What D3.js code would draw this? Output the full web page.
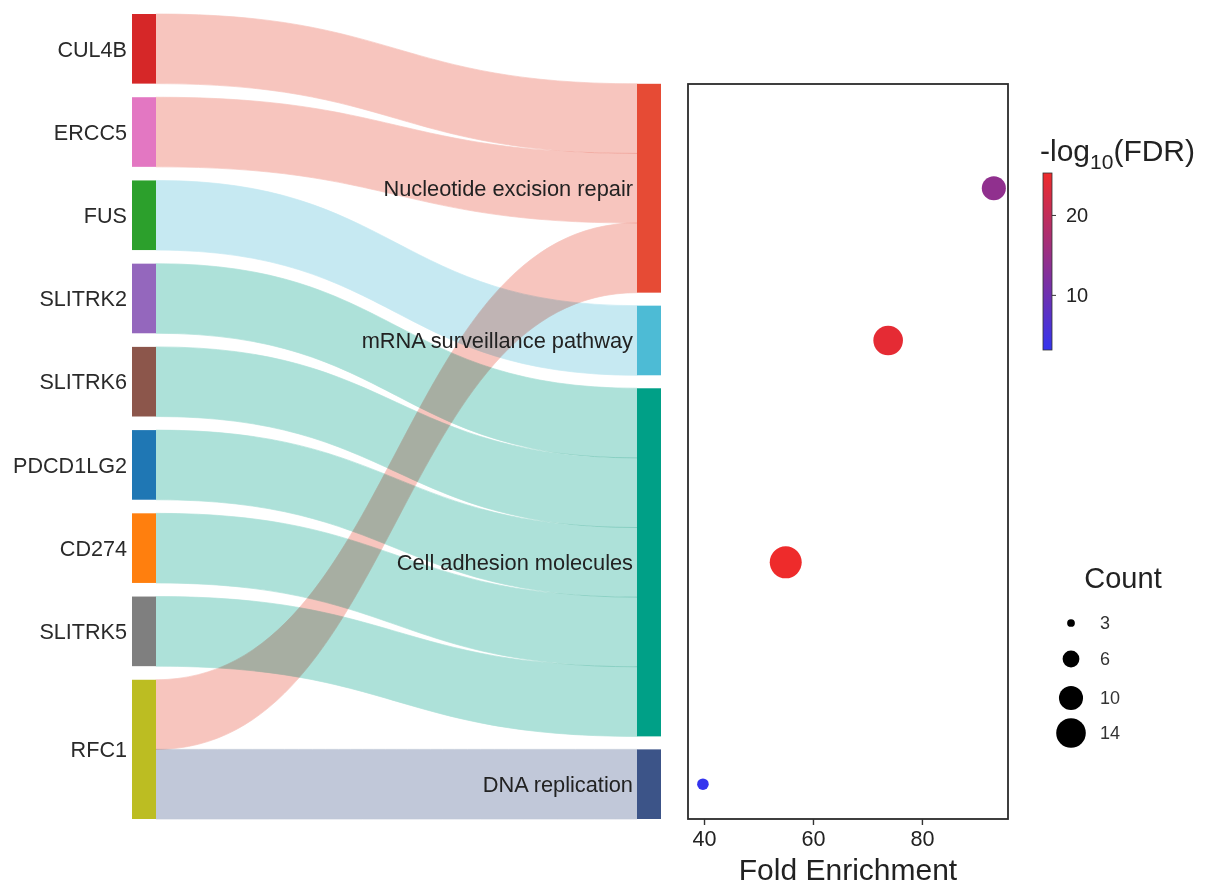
<!DOCTYPE html>
<html>
<head>
<meta charset="utf-8">
<script src="https://cdn.jsdelivr.net/npm/d3@7"></script>
<style>
  body { margin: 0; background: #fff; }
  text { font-family: "Liberation Sans", Arial, sans-serif; }
  .ribbon { mix-blend-mode: multiply; }
</style>
</head>
<body>
<svg id="chart" width="1205" height="888"></svg>
<script>
// ---- data ----
const genes = ["CUL4B", "ERCC5", "FUS", "SLITRK2", "SLITRK6", "PDCD1LG2", "CD274", "SLITRK5", "RFC1"];
const pathways = ["Nucleotide excision repair", "mRNA surveillance pathway", "Cell adhesion molecules", "DNA replication"];

// gene -> pathway memberships (one link each)
const linkSource = ["CUL4B", "ERCC5", "FUS", "SLITRK2", "SLITRK6", "PDCD1LG2", "CD274", "SLITRK5", "RFC1", "RFC1"];
const linkTarget = ["Nucleotide excision repair", "Nucleotide excision repair", "mRNA surveillance pathway",
  "Cell adhesion molecules", "Cell adhesion molecules", "Cell adhesion molecules", "Cell adhesion molecules",
  "Cell adhesion molecules", "Nucleotide excision repair", "DNA replication"];
const linkValue = [1, 1, 1, 1, 1, 1, 1, 1, 1, 1];

// enrichment statistics per pathway
const foldEnrichment = [93.2, 73.8, 55.0, 39.8];
const geneCount = [10, 14, 16, 4];
const negLog10FDR = [14.0, 24.2, 25.25, 3.1];

const xTicks = [40, 60, 80];
const colorTicks = [10, 20];
const countTicks = [3, 6, 10, 14];

// ---- palettes ----
const geneColors = ["#d62728", "#e377c2", "#2ca02c", "#9467bd", "#8c564b", "#1f77b4", "#ff7f0e", "#7f7f7f", "#bcbd22"];
const pathwayColors = ["#E64B35", "#4DBBD5", "#00A087", "#3C5488"];

const svg = d3.select("#chart");
const font = '"Liberation Sans", Arial, sans-serif';

// ---- sankey layout ----
const sk = { top: 14, bottom: 819, xLeft: 132, xRight: 637, nodeW: 24, padLeft: 13.6, padRight: 13 };

const links = linkSource.map((s, i) => ({ source: s, target: linkTarget[i], value: linkValue[i] }));
const geneNodes = genes.map((g, i) => ({ name: g, color: geneColors[i],
  value: d3.sum(links.filter(l => l.source === g), l => l.value) }));
const pathNodes = pathways.map((p, i) => ({ name: p, color: pathwayColors[i],
  value: d3.sum(links.filter(l => l.target === p), l => l.value) }));

const total = d3.sum(geneNodes, d => d.value);
const ky = (sk.bottom - sk.top - (geneNodes.length - 1) * sk.padLeft) / total;
const vScale = d3.scaleLinear().domain([0, total]).range([0, total * ky]);

let y = sk.top;
geneNodes.forEach(n => { n.y0 = y; n.y1 = y + vScale(n.value); y = n.y1 + sk.padLeft; n.x0 = sk.xLeft; n.x1 = sk.xLeft + sk.nodeW; });
y = sk.bottom - (vScale(total) + (pathNodes.length - 1) * sk.padRight);
pathNodes.forEach(n => { n.y0 = y; n.y1 = y + vScale(n.value); y = n.y1 + sk.padRight; n.x0 = sk.xRight; n.x1 = sk.xRight + sk.nodeW; });

const pathByName = new Map(pathNodes.map(n => [n.name, n]));

// stack links on each side in the order of the opposite column
geneNodes.forEach(n => {
  let cy = n.y0;
  links.filter(l => l.source === n.name)
    .sort((a, b) => pathways.indexOf(a.target) - pathways.indexOf(b.target))
    .forEach(l => { l.sy0 = cy; cy += vScale(l.value); l.sy1 = cy; });
});
pathNodes.forEach(n => {
  let cy = n.y0;
  links.filter(l => l.target === n.name)
    .sort((a, b) => genes.indexOf(a.source) - genes.indexOf(b.source))
    .forEach(l => { l.ty0 = cy; cy += vScale(l.value); l.ty1 = cy; });
});

function ribbon(l) {
  const x0 = sk.xLeft + sk.nodeW, x1 = sk.xRight, xm = (x0 + x1) / 2;
  return `M${x0},${l.sy0}C${xm},${l.sy0} ${xm},${l.ty0} ${x1},${l.ty0}` +
         `L${x1},${l.ty1}C${xm},${l.ty1} ${xm},${l.sy1} ${x0},${l.sy1}Z`;
}
// translucent tint of the target colour, multiplied where ribbons cross
const tint = c => d3.interpolateRgb("#ffffff", c)(0.32);

svg.append("g").selectAll("path").data(links).join("path")
  .attr("class", "ribbon")
  .attr("d", ribbon)
  .attr("fill", l => tint(pathByName.get(l.target).color))
  .attr("stroke", l => tint(pathByName.get(l.target).color))
  .attr("stroke-width", 0.7);

const gNodes = svg.append("g");
gNodes.selectAll("rect.gene").data(geneNodes).join("rect").attr("class", "gene")
  .attr("x", d => d.x0).attr("y", d => d.y0)
  .attr("width", d => d.x1 - d.x0).attr("height", d => d.y1 - d.y0)
  .attr("fill", d => d.color);
gNodes.selectAll("rect.path").data(pathNodes).join("rect").attr("class", "path")
  .attr("x", d => d.x0).attr("y", d => d.y0)
  .attr("width", d => d.x1 - d.x0).attr("height", d => d.y1 - d.y0)
  .attr("fill", d => d.color);

svg.append("g").selectAll("text").data(geneNodes).join("text")
  .attr("x", d => d.x0 - 5).attr("y", d => (d.y0 + d.y1) / 2)
  .attr("dy", "0.36em").attr("text-anchor", "end")
  .attr("font-size", 21.6).attr("fill", "#2a2a2a")
  .text(d => d.name);

svg.append("g").selectAll("text").data(pathNodes).join("text")
  .attr("x", d => d.x0 - 4).attr("y", d => (d.y0 + d.y1) / 2)
  .attr("dy", "0.36em").attr("text-anchor", "end")
  .attr("font-size", 21.8).attr("fill", "#222")
  .text(d => d.name);

// ---- bubble panel ----
const box = { x0: 688, x1: 1008, y0: 84, y1: 819 };
const x = d3.scaleLinear().domain([37.06, 95.8]).range([box.x0, box.x1]);
const color = d3.scaleLinear().domain([3.1, 25.25]).range(["#3434ee", "#ee2b2b"]).interpolate(d3.interpolateRgb);
const rArea = d3.scaleLinear().domain([3, 14]).range([15, 219]);
const radius = c => Math.sqrt(Math.max(rArea(c), 4));

const bubbles = pathNodes.map((n, i) => ({ cy: (n.y0 + n.y1) / 2, fe: foldEnrichment[i], count: geneCount[i], fdr: negLog10FDR[i] }));

svg.append("g").selectAll("circle").data(bubbles).join("circle")
  .attr("cx", d => x(d.fe)).attr("cy", d => d.cy)
  .attr("r", d => radius(d.count))
  .attr("fill", d => color(d.fdr));

svg.append("rect")
  .attr("x", box.x0).attr("y", box.y0)
  .attr("width", box.x1 - box.x0).attr("height", box.y1 - box.y0)
  .attr("fill", "none").attr("stroke", "#2b2b2b").attr("stroke-width", 1.8);

const xAxis = svg.append("g").attr("transform", `translate(0,${box.y1})`)
  .call(d3.axisBottom(x).tickValues(xTicks).tickSize(6).tickPadding(6).tickFormat(d3.format("d")));
xAxis.select(".domain").remove();
xAxis.selectAll("line").attr("stroke", "#333").attr("stroke-width", 1.4);
xAxis.selectAll("text").attr("font-size", 21.6).attr("font-family", font).attr("fill", "#222");

svg.append("text")
  .attr("x", (box.x0 + box.x1) / 2).attr("y", 880)
  .attr("text-anchor", "middle").attr("font-size", 30).attr("fill", "#222")
  .text("Fold Enrichment");

// ---- colour bar ----
const cb = { x: 1043, w: 9, y0: 173, y1: 350 };
const cbScale = d3.scaleLinear().domain(color.domain()).range([cb.y1, cb.y0]);
const grad = svg.append("defs").append("linearGradient").attr("id", "fdrGrad")
  .attr("x1", 0).attr("y1", 1).attr("x2", 0).attr("y2", 0);
d3.range(0, 1.001, 0.1).forEach(t => {
  const v = color.domain()[0] + t * (color.domain()[1] - color.domain()[0]);
  grad.append("stop").attr("offset", t).attr("stop-color", color(v));
});
svg.append("rect").attr("x", cb.x).attr("y", cb.y0).attr("width", cb.w).attr("height", cb.y1 - cb.y0)
  .attr("fill", "url(#fdrGrad)").attr("stroke", "#333").attr("stroke-width", 0.8);
const cbAxis = svg.append("g").attr("transform", `translate(${cb.x + cb.w},0)`)
  .call(d3.axisRight(cbScale).tickValues(colorTicks).tickSize(4).tickPadding(10));
cbAxis.select(".domain").remove();
cbAxis.selectAll("line").attr("stroke", "#333");
cbAxis.selectAll("text").attr("font-size", 20).attr("font-family", font).attr("fill", "#222");

const title = svg.append("text").attr("x", 1040).attr("y", 161).attr("font-size", 30).attr("fill", "#222");
title.append("tspan").text("-log");
title.append("tspan").attr("font-size", 21).attr("dy", 8).text("10");
title.append("tspan").attr("dy", -8).text("(FDR)");

// ---- size legend ----
svg.append("text").attr("x", 1123).attr("y", 588).attr("text-anchor", "middle")
  .attr("font-size", 29).attr("fill", "#222").text("Count");
const legendY = [623, 659, 698, 733];
const leg = svg.append("g").selectAll("g").data(countTicks).join("g")
  .attr("transform", (d, i) => `translate(1071,${legendY[i]})`);
leg.append("circle").attr("r", d => radius(d)).attr("fill", "#000");
leg.append("text").attr("x", 29).attr("dy", "0.36em").attr("font-size", 18).attr("fill", "#333").text(d => d);
</script>
</body>
</html>
